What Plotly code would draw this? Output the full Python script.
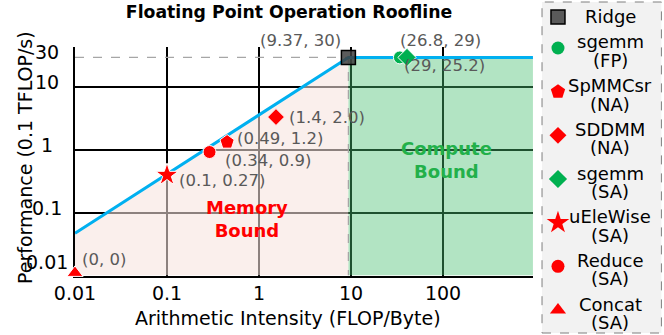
import numpy as np
import plotly.graph_objects as go

# roofline
roof_x = [0.01, 9.37, 950]
roof_y = [0.047, 30, 30]
ridge_x, ridge_y = 9.37, 30
x_min, y_min = 0.01, 0.01

# kernels (plotted position as drawn, label text as printed)
names = ["Ridge", "sgemm", "SpMMCsr", "SDDMM", "sgemm", "uEleWise", "Reduce", "Concat"]
tags = ["", "(FP)", "(NA)", "(NA)", "(SA)", "(SA)", "(SA)", "(SA)"]
point_x = [9.37, 34, 0.45, 1.53, 40.6, 0.1, 0.29, 0.01]
point_y = [30, 30, 1.34, 3.36, 30, 0.40, 0.93, 0.011]
point_labels = ["(9.37, 30)", "(26.8, 29)", "(0.49, 1.2)", "(1.4, 2.0)",
                "(29, 25.2)", "(0.1, 0.27)", "(0.34, 0.9)", "(0, 0)"]

x_ticks = [0.01, 0.1, 1, 10, 100]
y_ticks = [0.01, 0.1, 1, 10, 30]

# styles
FONT = "DejaVu Sans"
RED, GREEN = "#ff0000", "#00b050"
symbols = ["square", "circle", "pentagon", "diamond", "diamond", "star", "circle", "triangle-up"]
colors = ["rgba(64,64,64,0.85)", GREEN, RED, RED, GREEN, RED, RED, RED]
sizes = [14, 13, 15, 13, 14, 17, 13, 14]
edge = ["black", "white", "white", "white", "white", "white", "white", "white"]
lab_pos = [("right", -5, 17), ("left", -2, 17), ("left", 8, 4), ("left", 11, 0),
           ("left", -5, -8), ("left", 10, -5), ("left", 13, -8), ("left", 5, 13)]
leg_rows = [0.29, 1, 2, 3, 4, 5, 6, 7]

fig = go.Figure()

# memory-bound / compute-bound areas
fig.add_trace(go.Scatter(x=[x_min, roof_x[0], ridge_x, ridge_x], y=[y_min, roof_y[0], ridge_y, y_min],
                         fill="toself", fillcolor="rgba(246,226,222,0.57)", line=dict(width=0),
                         mode="lines", hoverinfo="skip", showlegend=False))
fig.add_trace(go.Scatter(x=[ridge_x, ridge_x, roof_x[-1], roof_x[-1]], y=[y_min, ridge_y, ridge_y, y_min],
                         fill="toself", fillcolor="rgba(72,190,112,0.42)", line=dict(width=0),
                         mode="lines", hoverinfo="skip", showlegend=False))
# dashed guides to the ridge
fig.add_trace(go.Scatter(x=[x_min, ridge_x, ridge_x], y=[ridge_y, ridge_y, y_min], mode="lines",
                         line=dict(color="#a6a6a6", width=1.3, dash="dash"), showlegend=False))
# roof
fig.add_trace(go.Scatter(x=roof_x, y=roof_y, mode="lines", line=dict(color="#00b0f0", width=3),
                         showlegend=False))

for i in range(len(names)):
    fig.add_trace(go.Scatter(x=[point_x[i]], y=[point_y[i]], mode="markers", cliponaxis=False,
                             marker=dict(symbol=symbols[i], size=sizes[i], color=colors[i],
                                         line=dict(color=edge[i], width=1.5 if i == 0 else 1)),
                             name=names[i] + " " + tags[i], showlegend=False))
    # hand-made legend in its own axes
    fig.add_trace(go.Scatter(x=[0.133], y=[leg_rows[i]], xaxis="x2", yaxis="y2", mode="markers",
                             marker=dict(symbol=symbols[i], size=sizes[i], color=colors[i],
                                         line=dict(color=edge[i], width=1.5 if i == 0 else 0)),
                             showlegend=False, hoverinfo="skip"))

ann = []
for i in range(len(names)):
    anchor, dx, dy = lab_pos[i]
    ann.append(dict(x=np.log10(point_x[i]), y=np.log10(point_y[i]), xref="x", yref="y",
                    text=point_labels[i], showarrow=False, xanchor=anchor, yanchor="middle",
                    xshift=dx, yshift=dy, font=dict(family=FONT, size=16.5, color="#595959")))
    if tags[i]:
        ann.append(dict(x=0.567, y=leg_rows[i], xref="x2", yref="y2", text=names[i], showarrow=False,
                        yshift=6, font=dict(family=FONT, size=18, color="black")))
        ann.append(dict(x=0.567, y=leg_rows[i], xref="x2", yref="y2", text=tags[i], showarrow=False,
                        yshift=-12.5, font=dict(family=FONT, size=18, color="black")))
    else:
        ann.append(dict(x=0.567, y=leg_rows[i], xref="x2", yref="y2", text=names[i], showarrow=False,
                        font=dict(family=FONT, size=18, color="black")))

# y tick labels (centred, like the original)
for v in y_ticks:
    ann.append(dict(x=-0.0477, y=np.log10(v), xref="paper", yref="y", text=str(v), showarrow=False,
                    xanchor="center", yanchor="middle", yshift=14 if v == 0.01 else 5,
                    font=dict(family=FONT, size=19, color="black")))

ann.append(dict(x=np.log10(0.74), y=np.log10(0.079), xref="x", yref="y", text="<b>Memory<br>Bound</b>",
                showarrow=False, font=dict(family=FONT, size=18, color=RED)))
ann.append(dict(x=np.log10(110), y=np.log10(0.69), xref="x", yref="y", text="<b>Compute<br>Bound</b>",
                showarrow=False, font=dict(family=FONT, size=18, color="#22b04a")))
ann.append(dict(x=0.3629, y=0.0453, xref="paper", yref="paper", text="Arithmetic Intensity (FLOP/Byte)",
                showarrow=False, yanchor="middle", font=dict(family=FONT, size=19, color="black")))
ann.append(dict(x=-0.1073, y=0.5287, xref="paper", yref="paper", text="Performance (0.1 TFLOP/s)",
                textangle=-90, showarrow=False, font=dict(family=FONT, size=19, color="black")))

fig.update_layout(
    width=664, height=335,
    margin=dict(l=75, r=2, t=2, b=2),
    paper_bgcolor="white", plot_bgcolor="white",
    title=dict(text="<b>Floating Point Operation Roofline</b>", x=0.3646, xref="paper", xanchor="center",
               y=0.964, yref="container", yanchor="middle", font=dict(family=FONT, size=17.3, color="black")),
    xaxis=dict(type="log", range=[-2, 2.978], domain=[0, 0.7802], tickvals=x_ticks,
               ticktext=[str(v) for v in x_ticks], ticks="", showgrid=True, gridcolor="black", gridwidth=1.5,
               showline=True, linecolor="black", linewidth=1.5, layer="below traces",
               tickfont=dict(family=FONT, size=19, color="black"), zeroline=False),
    yaxis=dict(type="log", range=[-2, 1.6427], domain=[0.1737, 0.864], tickvals=[0.1, 1, 10],
               showticklabels=False, ticks="", showgrid=True, gridcolor="black", gridwidth=1.5,
               showline=True, linecolor="black", linewidth=1.5, layer="below traces", zeroline=False),
    xaxis2=dict(domain=[0.7956, 1], range=[0, 1], visible=False, anchor="y2"),
    yaxis2=dict(domain=[0, 1], range=[7.526, -0.053], visible=False, anchor="x2"),
    shapes=[dict(type="rect", xref="paper", yref="paper", x0=0.7956, x1=0.999, y0=0.0, y1=1.0,
                 fillcolor="#f2f2f2", line=dict(color="#7f7f7f", width=1, dash="dash"), layer="below")],
    annotations=ann,
    showlegend=False,
)

# the page's default body margin would shift the figure by 8px
fig.write_html("out.html", config={"displayModeBar": False},
               post_script="document.body.style.margin='0px';")
